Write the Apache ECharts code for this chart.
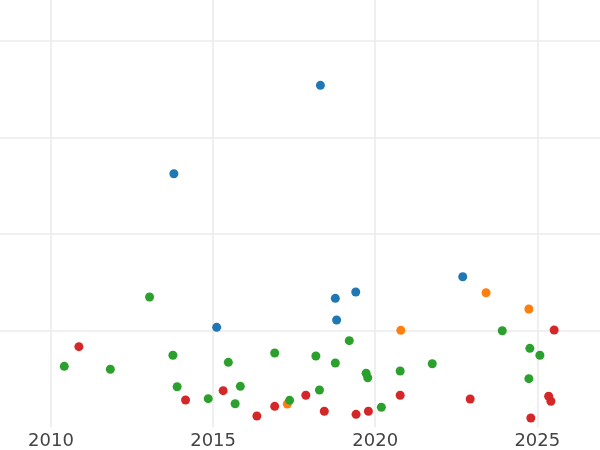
<!DOCTYPE html>
<html>
<head>
<meta charset="utf-8">
<script src="https://cdn.jsdelivr.net/npm/echarts@6/dist/echarts.min.js"></script>
<style>html,body{margin:0;padding:0;background:#fff}#c{width:600px;height:450px}</style>
</head>
<body>
<div id="c"></div>
<script>
var xTicks = [2005, 2010, 2015, 2020, 2025, 2030];

var blueX = [2013.79, 2018.31, 2015.11, 2018.77, 2019.40, 2018.81, 2022.70];
var blueY = [2.623, 3.538, 1.034, 1.334, 1.400, 1.110, 1.558];

var orangeX = [2017.29, 2020.79, 2023.42, 2024.74];
var orangeY = [0.241, 1.003, 1.392, 1.224];

var greenX = [2013.04, 2010.41, 2011.83, 2013.76, 2013.89, 2014.85, 2015.47, 2015.84, 2015.68, 2016.90,
              2017.36, 2018.17, 2018.28, 2019.20, 2018.77, 2019.72, 2019.77, 2020.77, 2021.76, 2020.19,
              2023.92, 2024.77, 2025.08, 2024.74];
var greenY = [1.348, 0.631, 0.600, 0.745, 0.420, 0.296, 0.672, 0.424, 0.244, 0.769,
              0.279, 0.738, 0.386, 0.896, 0.665, 0.559, 0.513, 0.582, 0.658, 0.207,
              0.999, 0.817, 0.745, 0.503];

var redX = [2010.86, 2014.15, 2015.31, 2016.35, 2016.90, 2017.86, 2018.43, 2019.41, 2019.79, 2020.77,
            2022.93, 2025.52, 2025.35, 2025.42, 2024.80];
var redY = [0.834, 0.282, 0.379, 0.117, 0.217, 0.331, 0.166, 0.134, 0.166, 0.331,
            0.293, 1.007, 0.321, 0.269, 0.096];

function pairs(xs, ys) { return xs.map(function (x, i) { return [x, ys[i]]; }); }

var chart = echarts.init(document.getElementById('c'), null, { renderer: 'canvas' });
function mk(name, color, xs, ys) {
  return {
    name: name, type: 'scatter', symbol: 'circle', symbolSize: 9,
    itemStyle: { color: color, opacity: 1 },
    data: pairs(xs, ys), animation: false
  };
}
chart.setOption({
  backgroundColor: '#ffffff',
  animation: false,
  grid: { left: -111.1, right: -99.4, top: -56, bottom: 22.7, containLabel: false, outerBoundsMode: 'none' },
  xAxis: {
    type: 'value', min: xTicks[0], max: xTicks[xTicks.length - 1], interval: 5,
    axisLine: { show: false }, axisTick: { show: false },
    axisLabel: { color: '#444', fontSize: 18, fontFamily: 'DejaVu Sans', margin: 5, formatter: function (v) { return String(v); } },
    splitLine: { show: true, lineStyle: { color: '#ebebeb', width: 1.6 } }
  },
  yAxis: {
    type: 'value', min: 0, max: 5, interval: 1,
    axisLine: { show: false }, axisTick: { show: false }, axisLabel: { show: false },
    splitLine: { show: true, showMinLine: false, lineStyle: { color: '#ebebeb', width: 1.6 } }
  },
  series: [
    mk('blue', '#1f77b4', blueX, blueY),
    mk('orange', '#ff7f0e', orangeX, orangeY),
    mk('green', '#2ca02c', greenX, greenY),
    mk('red', '#d62728', redX, redY)
  ]
});
</script>
</body>
</html>
